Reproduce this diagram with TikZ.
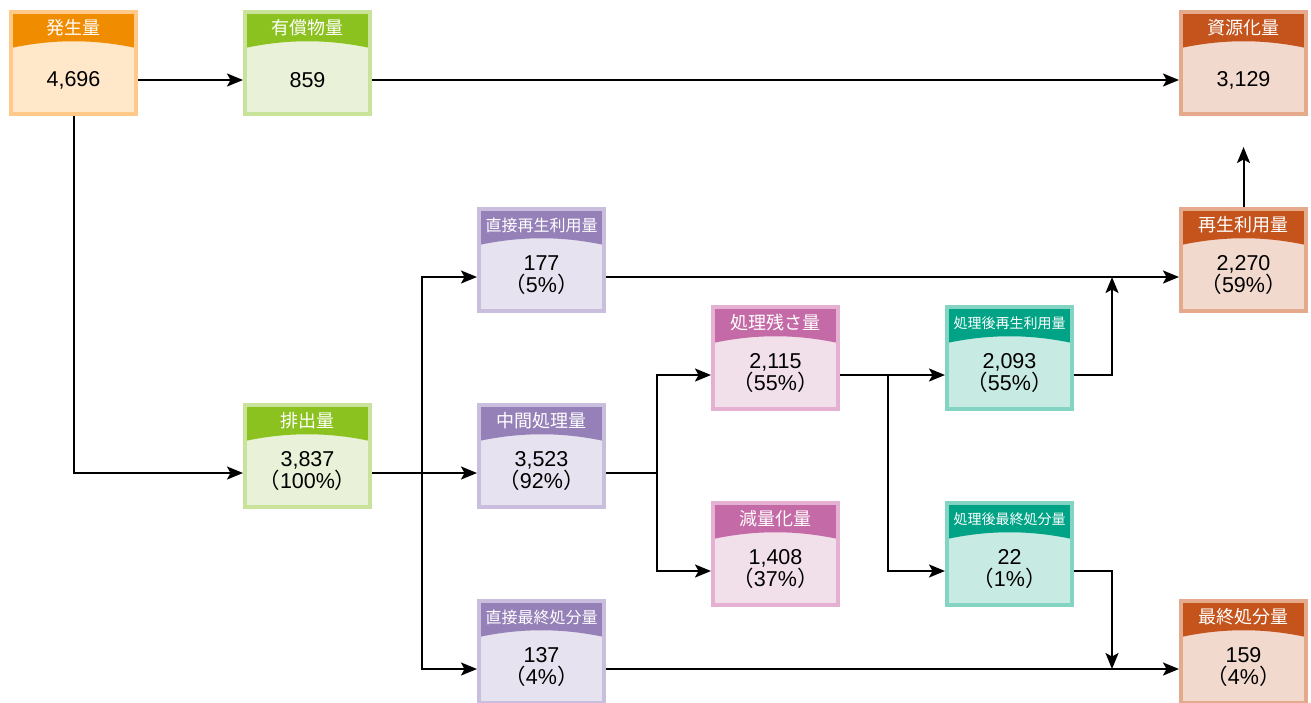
\documentclass[tikz,border=0pt]{standalone}
\usepackage{fontspec}
\setmainfont{Liberation Sans}
\newfontfamily\jpfont{Noto Sans CJK JP}
\usetikzlibrary{arrows.meta,positioning}
\definecolor{orHead}{HTML}{F08C00}
\definecolor{orLine}{HTML}{FFC98A}
\definecolor{orFill}{HTML}{FFE7CA}
\definecolor{grHead}{HTML}{8CC21F}
\definecolor{grLine}{HTML}{C9E39B}
\definecolor{grFill}{HTML}{E9F2D9}
\definecolor{puHead}{HTML}{9580B8}
\definecolor{puLine}{HTML}{CABEDF}
\definecolor{puFill}{HTML}{E6E2EF}
\definecolor{pkHead}{HTML}{C46AA6}
\definecolor{pkLine}{HTML}{E4B1D3}
\definecolor{pkFill}{HTML}{F1DFEA}
\definecolor{tqHead}{HTML}{00A385}
\definecolor{tqLine}{HTML}{84D4C3}
\definecolor{tqFill}{HTML}{C7EAE2}
\definecolor{rdHead}{HTML}{C5541C}
\definecolor{rdLine}{HTML}{E5A98B}
\definecolor{rdFill}{HTML}{F2D9CD}
\tikzset{
  flowbox/.style={rectangle,minimum width=125pt,minimum height=102pt,inner sep=0pt,
    line width=4pt},
  headband/.style={path picture={
    \fill[#1] (path picture bounding box.north west) -- (path picture bounding box.north east)
      -- ++(0pt,-36pt) .. controls +(-42pt,9pt) and +(42pt,9pt) ..
      ([yshift=-36pt]path picture bounding box.north west) -- cycle;}},
  orangebox/.style={flowbox,draw=orLine,fill=orFill,headband=orHead},
  greenbox/.style={flowbox,draw=grLine,fill=grFill,headband=grHead},
  purplebox/.style={flowbox,draw=puLine,fill=puFill,headband=puHead},
  pinkbox/.style={flowbox,draw=pkLine,fill=pkFill,headband=pkHead},
  tealbox/.style={flowbox,draw=tqLine,fill=tqFill,headband=tqHead},
  rustbox/.style={flowbox,draw=rdLine,fill=rdFill,headband=rdHead},
  headtext/.style={text=white,inner sep=0pt,font=\jpfont\fontsize{#1}{#1}\selectfont},
  headtext/.default=18,
  valuetext/.style={align=center,inner sep=0pt,font=\fontsize{21.5}{22}\selectfont},
  flowarrow/.style={-{Stealth[length=16pt,width=13pt,inset=3.5pt]},line width=2pt}
}
\newcommand{\jpparen}[1]{{\jpfont （}#1{\jpfont ）}}

\begin{document}
\begin{tikzpicture}[x=1pt,y=-1pt]
  \useasboundingbox (0,0) rectangle (1311,702);
  % boxes
  \node[orangebox] (gen) at (73.5,63) {};
  \node[greenbox,right=105pt of gen] (paid) {};
  \node[greenbox,below=287pt of paid] (dis) {};
  \node[purplebox,right=105pt of dis] (mid) {};
  \node[purplebox,above=90pt of mid] (drec) {};
  \node[purplebox,below=90pt of mid] (ddisp) {};
  \node[pinkbox,right=105pt of mid,yshift=98pt] (rem) {};
  \node[pinkbox,right=105pt of mid,yshift=-98pt] (red) {};
  \node[tealbox,right=105pt of rem] (prec) {};
  \node[tealbox,right=105pt of red] (pdisp) {};
  \node[rustbox,right=105pt of prec,yshift=98pt] (recy) {};
  \node[rustbox,right=105pt of pdisp,yshift=-98pt] (fin) {};
  \node[rustbox,above=91pt of recy] (res) {};
  % headers
  \node[headtext] (gen-h) at ([yshift=-18pt]gen.north) {発生量};
  \node[headtext] (paid-h) at ([yshift=-18pt]paid.north) {有償物量};
  \node[headtext] (dis-h) at ([yshift=-18pt]dis.north) {排出量};
  \node[headtext] (mid-h) at ([yshift=-18pt]mid.north) {中間処理量};
  \node[headtext=16] (drec-h) at ([yshift=-18pt]drec.north) {直接再生利用量};
  \node[headtext=16] (ddisp-h) at ([yshift=-18pt]ddisp.north) {直接最終処分量};
  \node[headtext] (rem-h) at ([yshift=-18pt]rem.north) {処理残さ量};
  \node[headtext] (red-h) at ([yshift=-18pt]red.north) {減量化量};
  \node[headtext=14] (prec-h) at ([yshift=-18pt]prec.north) {処理後再生利用量};
  \node[headtext=14] (pdisp-h) at ([yshift=-18pt]pdisp.north) {処理後最終処分量};
  \node[headtext] (recy-h) at ([yshift=-18pt]recy.north) {再生利用量};
  \node[headtext] (fin-h) at ([yshift=-18pt]fin.north) {最終処分量};
  \node[headtext] (res-h) at ([yshift=-18pt]res.north) {資源化量};
  % values
  \node[valuetext] (gen-v) at ([yshift=-17pt]gen.center) {4,696};
  \node[valuetext] (paid-v) at ([yshift=-17pt]paid.center) {859};
  \node[valuetext] (res-v) at ([yshift=-17pt]res.center) {3,129};
  \node[valuetext] (dis-v) at ([yshift=-15pt]dis.center) {3,837\\\jpparen{100\%}};
  \node[valuetext] (mid-v) at ([yshift=-15pt]mid.center) {3,523\\\jpparen{92\%}};
  \node[valuetext] (drec-v) at ([yshift=-15pt]drec.center) {177\\\jpparen{5\%}};
  \node[valuetext] (ddisp-v) at ([yshift=-15pt]ddisp.center) {137\\\jpparen{4\%}};
  \node[valuetext] (rem-v) at ([yshift=-15pt]rem.center) {2,115\\\jpparen{55\%}};
  \node[valuetext] (red-v) at ([yshift=-15pt]red.center) {1,408\\\jpparen{37\%}};
  \node[valuetext] (prec-v) at ([yshift=-15pt]prec.center) {2,093\\\jpparen{55\%}};
  \node[valuetext] (pdisp-v) at ([yshift=-15pt]pdisp.center) {22\\\jpparen{1\%}};
  \node[valuetext] (recy-v) at ([yshift=-15pt]recy.center) {2,270\\\jpparen{59\%}};
  \node[valuetext] (fin-v) at ([yshift=-15pt]fin.center) {159\\\jpparen{4\%}};
  % connectors
  \coordinate (recy-up) at ([yshift=60pt]recy.north);
  \draw[flowarrow] ([yshift=-17pt]gen.east) -- ([yshift=-17pt]paid.west);
  \draw[flowarrow] ([yshift=-17pt]paid.east) -- ([yshift=-17pt]res.west);
  \draw[flowarrow] (gen.south) |- ([yshift=-17pt]dis.west);
  \draw[flowarrow] ([yshift=-17pt]dis.east) -- ([yshift=-17pt]mid.west);
  \draw[flowarrow] ([xshift=50pt,yshift=-17pt]dis.east) |- ([yshift=-17pt]drec.west);
  \draw[flowarrow] ([xshift=50pt,yshift=-17pt]dis.east) |- ([yshift=-17pt]ddisp.west);
  \draw[line width=2pt] ([yshift=-17pt]mid.east) -- ([xshift=51pt,yshift=-17pt]mid.east);
  \draw[flowarrow] ([xshift=51pt,yshift=-17pt]mid.east) |- ([yshift=-17pt]rem.west);
  \draw[flowarrow] ([xshift=51pt,yshift=-17pt]mid.east) |- ([yshift=-17pt]red.west);
  \draw[flowarrow] ([yshift=-17pt]rem.east) -- ([yshift=-17pt]prec.west);
  \draw[flowarrow] ([xshift=48pt,yshift=-17pt]rem.east) |- ([yshift=-17pt]pdisp.west);
  \draw[flowarrow] ([yshift=-17pt]drec.east) -- ([yshift=-17pt]recy.west);
  \draw[flowarrow] ([yshift=-17pt]prec.east) -| ([xshift=-67pt,yshift=-17pt]recy.west);
  \draw[flowarrow] ([yshift=-17pt]ddisp.east) -- ([yshift=-17pt]fin.west);
  \draw[flowarrow] ([yshift=-17pt]pdisp.east) -| ([xshift=-67pt,yshift=-17pt]fin.west);
  \draw[flowarrow] (recy.north) -- (recy-up);
\end{tikzpicture}
\end{document}
